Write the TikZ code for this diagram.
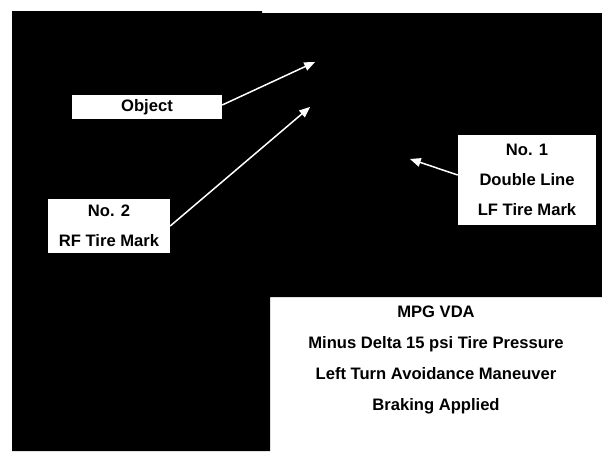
\documentclass[tikz,border=0pt]{standalone}
\usepackage{fontspec}
\setmainfont{Liberation Sans}
\usetikzlibrary{arrows,positioning}
\tikzset{%
       tag/.style = { fill=white, inner sep=0pt, align=center, font=\bfseries\fontsize{16.6}{30}\selectfont },
   pointer/.style = { white, line width=1.5pt, -triangle 45 }
}

\begin{document}
\begin{tikzpicture}[x=1pt,y=-1pt]
\useasboundingbox (0,0) rectangle (602,451);
% dark backdrop, open at the lower right
\fill[black] (12,11) -- (262,11) -- (262,13) -- (602,13) -- (602,297) -- (270,297) -- (270,451) -- (12,451) -- cycle;
\node[tag, minimum width=150pt, minimum height=24pt] (object) at (147,107) {Object};
\node[tag, minimum width=122pt, minimum height=54pt] (rf) at (109,226) {No. 2\\RF Tire Mark};
\node[tag, minimum width=138pt, minimum height=90pt] (lf) at (527,180) {No. 1\\Double Line\\LF Tire Mark};
\node[align=center, font=\bfseries\fontsize{16.6}{31}\selectfont] (vda) at (436,360)
  {MPG VDA\\Minus Delta 15 psi Tire Pressure\\Left Turn Avoidance Maneuver\\Braking Applied};
\coordinate (objtip) at (315,62);
\coordinate (rftip) at (310,107);
\coordinate (lftip) at (410,159);
\draw[pointer] ([yshift=2pt]object.east) -- (objtip);
\draw[pointer] (rf.east) -- (rftip);
\draw[pointer] ([yshift=5pt]lf.west) -- (lftip);
\end{tikzpicture}
\end{document}
